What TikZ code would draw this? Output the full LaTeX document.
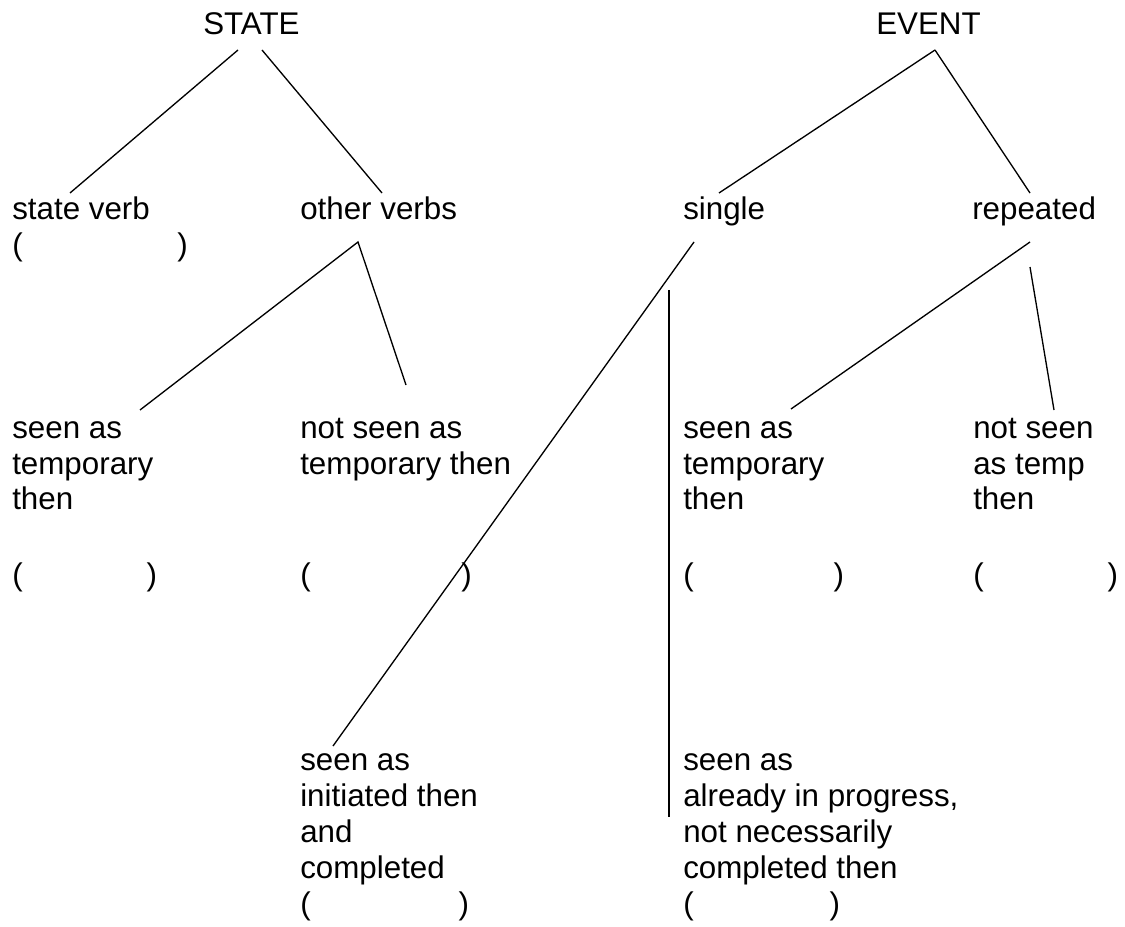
\documentclass[tikz,border=0pt]{standalone}
\usepackage{fontspec}
\setmainfont{Liberation Sans}
\newcommand\parpair[1]{(\hspace{#1})}
\newcommand\stack[1]{\begin{tabular}[t]{@{}l@{}}#1\end{tabular}}

\begin{document}
\begin{tikzpicture}[x=0.75pt,y=-0.75pt,
    lbl/.style={anchor=base west,inner sep=0pt,
                font=\fontsize{23.5}{27}\selectfont},
    branch/.style={line width=1pt}]
    \useasboundingbox (0,0) rectangle (1125,927);

    % the two kinds
    \node[lbl] (STATE) at (203,35) {STATE};
    \node[lbl] (EVENT) at (876,35) {EVENT};

    % second row
    \node[lbl] (stateverb) at (12,220) {\stack{state verb\\\parpair{116pt}}};
    \node[lbl] (otherverbs) at (300,220) {other verbs};
    \node[lbl] (single) at (683,220) {single};
    \node[lbl] (repeated) at (972,220) {repeated};

    % third row
    \node[lbl] (statetemp) at (12,438) {\stack{seen as\\temporary\\then\\[30pt]\parpair{93pt}}};
    \node[lbl] (statenottemp) at (300,438) {\stack{not seen as\\temporary then\\[57pt]\parpair{113pt}}};
    \node[lbl] (eventtemp) at (683,438) {\stack{seen as\\temporary\\then\\[30pt]\parpair{105pt}}};
    \node[lbl] (eventnottemp) at (973,438) {\stack{not seen\\as temp\\then\\[30pt]\parpair{93pt}}};

    % bottom row
    \node[lbl] (initiated) at (300,770) {\stack{seen as\\initiated then\\and\\completed\\\parpair{111pt}}};
    \node[lbl] (inprogress) at (683,770) {\stack{seen as\\already in progress,\\not necessarily\\completed then\\\parpair{102pt}}};

    % line ends
    \coordinate (stateL) at (238,50);
    \coordinate (stateR) at (262,50);
    \coordinate (stateverbT) at (70,193);
    \coordinate (otherverbsT) at (382,193);
    \coordinate (eventTop) at (935,50);
    \coordinate (singleT) at (719,193);
    \coordinate (repeatedT) at (1030,193);
    \coordinate (otherverbsB) at (358,242);
    \coordinate (statetempT) at (140,410);
    \coordinate (statenottempT) at (406,385);
    \coordinate (singleB) at (694,242);
    \coordinate (initiatedT) at (333,746);
    \coordinate (inprogressT) at (669,290);
    \coordinate (inprogressB) at (669,817);
    \coordinate (repeatedL) at (1030,242);
    \coordinate (repeatedR) at (1030,267);
    \coordinate (eventtempT) at (791,409);
    \coordinate (eventnottempT) at (1054,410);

    \draw[branch] (stateL) -- (stateverbT);
    \draw[branch] (stateR) -- (otherverbsT);
    \draw[branch] (eventTop) -- (singleT);
    \draw[branch] (eventTop) -- (repeatedT);
    \draw[branch] (statetempT) -- (otherverbsB) -- (statenottempT);
    \draw[branch] (singleB) -- (initiatedT);
    \draw[branch] (inprogressT) -- (inprogressB);
    \draw[branch] (eventtempT) -- (repeatedL);
    \draw[branch] (repeatedR) -- (eventnottempT);
\end{tikzpicture}
\end{document}
